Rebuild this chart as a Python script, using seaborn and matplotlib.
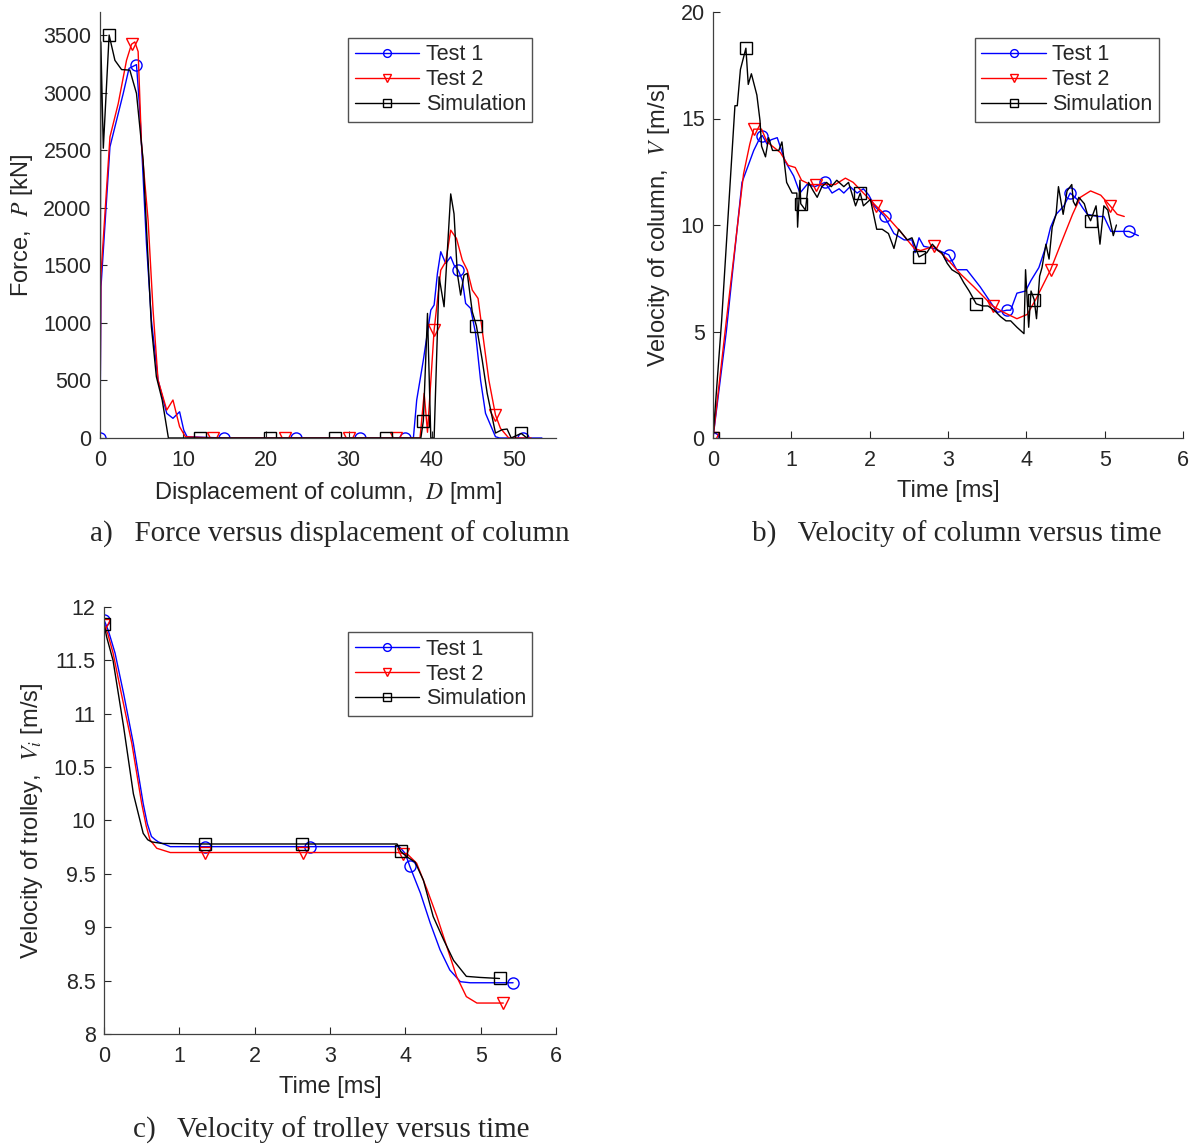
import numpy as np
import matplotlib
matplotlib.use("Agg")
import matplotlib.pyplot as plt
import seaborn as sns
from matplotlib.ticker import FormatStrFormatter

# ---- a) force vs displacement ----
a_t1_d = [0, 0.12, 1.2, 2.0, 2.8, 3.5, 4.4, 4.8, 5.6, 6.2, 7.0, 8.05, 8.8, 9.6, 10.1, 10.5, 15.0, 23.6, 31.4,
          36.8, 37.8, 38.2, 39.0, 39.9, 40.3, 40.7, 41.1, 41.7, 42.3, 42.7, 43.2, 43.7, 44.1, 44.7, 45.3, 45.9,
          46.5, 47.7, 48.2, 51.0, 53.3]
a_t1_p = [0, 1313, 2529, 2760, 2992, 3210, 3243, 2847, 1692, 1024, 503, 214, 171, 228, 69, 11, 0, 0, 0,
          0, 0, 330, 677, 1111, 1155, 1430, 1618, 1516, 1574, 1502, 1458, 1372, 1169, 1126, 909, 503,
          214, 11, 0, 0, 0]
a_t1_mk = [0, 4.4, 15.0, 23.6, 31.4, 36.8, 43.2, 51.0]

a_t2_d = [0, 0.1, 1.2, 2.2, 3.2, 3.8, 4.2, 4.6, 5.0, 5.8, 6.4, 7.0, 8.05, 8.8, 9.6, 10.3, 13.6, 22.3, 30.0,
          35.7, 38.6, 39.1, 39.5, 40.3, 41.1, 41.7, 42.3, 43.0, 43.7, 44.3, 44.9, 45.6, 46.1, 46.9, 47.7,
          48.3, 49.3, 52.0]
a_t2_p = [0, 1400, 2615, 2905, 3281, 3420, 3440, 3356, 2558, 1892, 1111, 503, 243, 330, 98, 11, 0, 0, 0,
          0, 0, 388, 50, 937, 1458, 1531, 1805, 1733, 1545, 1458, 1285, 1212, 937, 503, 200,
          84, 0, 0]
a_t2_mk = [3.8, 13.6, 22.3, 30.0, 35.7, 40.3, 47.7]

a_sim_d = [0, 0.1, 0.4, 1.1, 1.8, 2.6, 3.6, 4.4, 5.2, 6.2, 6.8, 7.5, 8.25, 12.1, 20.5, 28.4, 34.5, 38.7,
           39.0, 39.5, 39.9, 40.3, 40.9, 41.5, 42.3, 42.7, 43.1, 43.5, 43.9, 44.3, 44.9, 45.4, 46.1, 46.7,
           47.7, 48.5, 49.1, 49.6, 50.8, 51.5]
a_sim_p = [0, 3440, 2517, 3500, 3280, 3200, 3195, 2993, 2413, 966, 532, 330, 0, 0, 0, 0, 0, 0,
           148, 1082, 0, 0, 1400, 1140, 2120, 1947, 1428, 1241, 1415, 1430, 1096, 974, 677, 388,
           43, 72, 78, 0, 40, 0]
a_sim_mk = [1.1, 12.1, 20.5, 28.4, 34.5, 39.0, 45.4, 50.8]

# ---- b) column velocity vs time ----
b_t1_t = [0, 0.17, 0.37, 0.52, 0.60, 0.63, 0.69, 0.74, 0.82, 0.92, 1.03, 1.11, 1.20, 1.30, 1.43, 1.52, 1.61,
          1.67, 1.75, 1.84, 1.92, 1.99, 2.06, 2.19, 2.31, 2.44, 2.54, 2.58, 2.63, 2.69, 2.82, 3.01, 3.11,
          3.24, 3.41, 3.52, 3.63, 3.75, 3.80, 3.88, 3.99, 4.06, 4.16, 4.25, 4.31, 4.38, 4.48, 4.56, 4.65,
          4.72, 4.78, 4.91, 4.99, 5.08, 5.19, 5.31, 5.43]
b_t1_v = [0, 5.0, 12.0, 13.5, 14.1, 14.2, 13.8, 14.0, 14.1, 13.0, 12.3, 11.5, 11.9, 11.8, 12.0, 11.5, 11.7,
          11.5, 11.8, 11.5, 11.7, 11.4, 10.9, 10.4, 9.6, 9.3, 9.3, 8.7, 9.4, 9.0, 8.9, 8.6, 7.9,
          7.9, 7.1, 6.5, 5.9, 6.0, 6.0, 6.8, 6.9, 7.4, 8.0, 9.0, 9.9, 10.5, 10.9, 11.5, 11.2,
          10.8, 10.5, 10.4, 10.4, 9.7, 9.7, 9.7, 9.5]
b_t1_mk = [0, 0.63, 1.43, 2.19, 3.01, 3.75, 4.56, 5.31]

b_t2_t = [0, 0.17, 0.39, 0.47, 0.52, 0.62, 0.69, 0.86, 0.96, 1.05, 1.13, 1.24, 1.31, 1.43, 1.56, 1.69, 1.79,
          1.92, 2.08, 2.22, 2.39, 2.57, 2.65, 2.82, 2.99, 3.16, 3.33, 3.57, 3.71, 3.88, 4.01, 4.12, 4.31,
          4.46, 4.59, 4.69, 4.82, 4.95, 5.07, 5.16, 5.25]
b_t2_v = [0, 5.5, 12.4, 13.8, 14.5, 14.5, 13.9, 13.4, 12.8, 12.7, 12.1, 11.9, 11.9, 11.9, 11.9, 12.2, 12.0,
          11.5, 10.9, 10.4, 9.7, 8.9, 8.8, 9.0, 8.4, 7.7, 7.1, 6.2, 5.9, 5.6, 5.8, 6.5, 7.9,
          9.3, 10.5, 11.3, 11.6, 11.4, 10.9, 10.5, 10.4]
b_t2_mk = [0, 0.52, 1.31, 2.08, 2.82, 3.57, 4.31, 5.07]

b_sim_t = [0, 0.11, 0.28, 0.31, 0.35, 0.42, 0.45, 0.49, 0.56, 0.60, 0.62, 0.67, 0.71, 0.76, 0.84, 0.88,
           0.94, 1.01, 1.07, 1.08, 1.11, 1.12, 1.18, 1.22, 1.28, 1.33, 1.39, 1.45, 1.51, 1.58, 1.67, 1.73,
           1.82, 1.88, 1.92, 2.01, 2.09, 2.16, 2.24, 2.31, 2.37, 2.48, 2.54, 2.63, 2.73, 2.80, 2.87, 2.92,
           2.99, 3.05, 3.14, 3.20, 3.27, 3.36, 3.44, 3.51, 3.59, 3.67, 3.74, 3.80, 3.88, 3.97, 3.99, 4.03,
           4.06, 4.10, 4.13, 4.17, 4.20, 4.25, 4.29, 4.33, 4.38, 4.41, 4.47, 4.52, 4.58, 4.60, 4.63, 4.67,
           4.74, 4.78, 4.82, 4.89, 4.94, 4.99, 5.04, 5.11, 5.15]
b_sim_v = [0, 5.5, 15.6, 15.6, 17.3, 18.3, 16.6, 17.1, 16.1, 14.9, 13.7, 13.2, 14.1, 13.5, 13.5, 13.9,
           12.0, 11.5, 11.5, 9.9, 12.1, 11.0, 10.7, 12.0, 11.6, 11.3, 11.8, 12.0, 11.8, 12.1, 11.8, 12.0,
           10.9, 11.5, 10.9, 11.2, 9.8, 9.8, 9.6, 8.9, 9.8, 9.3, 9.4, 8.5, 8.7, 9.1, 8.8, 8.7,
           8.2, 7.9, 7.7, 7.3, 6.9, 6.3, 6.2, 6.2, 6.0, 5.7, 5.5, 5.5, 5.2, 4.9, 7.9, 5.2,
           6.9, 6.5, 5.6, 7.6, 8.0, 9.1, 8.4, 9.9, 10.5, 11.8, 10.5, 11.6, 11.9, 11.1, 10.9, 11.3,
           11.0, 10.5, 10.2, 10.9, 9.1, 10.9, 10.7, 9.5, 10.0]
b_sim_mk = [0, 0.42, 1.12, 1.88, 2.63, 3.36, 4.10, 4.82]

# ---- c) trolley velocity vs time ----
c_t1_t = [0, 0.057, 0.146, 0.26, 0.39, 0.52, 0.575, 0.63, 0.68, 0.72, 0.88, 1.34, 2.73, 3.92, 4.0, 4.06,
          4.20, 4.33, 4.46, 4.59, 4.73, 4.86, 5.43]
c_t1_v = [11.88, 11.78, 11.57, 11.19, 10.72, 10.16, 9.97, 9.85, 9.82, 9.80, 9.755, 9.755, 9.755, 9.755,
          9.69, 9.57, 9.32, 9.04, 8.79, 8.60, 8.49, 8.48, 8.48]
c_t1_mk = [0, 1.34, 2.73, 4.06, 5.43]

c_t2_t = [0, 0.05, 0.12, 0.23, 0.37, 0.50, 0.56, 0.61, 0.70, 0.88, 1.34, 2.64, 3.90, 3.97, 4.02, 4.15,
          4.29, 4.42, 4.55, 4.68, 4.81, 4.95, 5.30]
c_t2_v = [11.83, 11.75, 11.57, 11.19, 10.72, 10.16, 9.95, 9.82, 9.74, 9.70, 9.70, 9.70, 9.70, 9.69,
          9.69, 9.60, 9.35, 9.10, 8.82, 8.54, 8.35, 8.29, 8.29]
c_t2_mk = [0, 1.34, 2.64, 3.97, 5.30]

c_sim_t = [0, 0.035, 0.12, 0.26, 0.39, 0.52, 0.58, 0.63, 0.77, 1.34, 2.63, 3.89, 3.94, 4.02, 4.13, 4.24,
           4.37, 4.51, 4.64, 4.81, 4.99, 5.25]
c_sim_v = [11.84, 11.72, 11.50, 10.88, 10.25, 9.88, 9.82, 9.80, 9.785, 9.78, 9.78, 9.78, 9.71, 9.66,
           9.61, 9.44, 9.10, 8.88, 8.69, 8.54, 8.53, 8.52]
c_sim_mk = [0, 1.34, 2.63, 3.94, 5.25]

labels = ["Test 1", "Test 2", "Simulation"]
colors = ["#0000ff", "#ff0000", "#000000"]
markers = ["o", "v", "s"]

sns.set_style("white")
plt.rcParams["font.family"] = ["Liberation Sans", "DejaVu Sans"]
plt.rcParams["mathtext.fontset"] = "stix"
plt.rcParams["xtick.direction"] = "in"
plt.rcParams["ytick.direction"] = "in"

fig = plt.figure(figsize=(11.94, 11.45), dpi=100)
W, H = 1194, 1145


def box(l, r, t, b):
    return [l / W, 1 - b / H, (r - l) / W, (b - t) / H]


def draw(ax, series):
    for (x, y, mk), lab, col, m in zip(series, labels, colors, markers):
        idx = list(np.flatnonzero(np.isin(x, mk)))
        sns.lineplot(x=x, y=y, ax=ax, sort=False, estimator=None, color=col, linewidth=1.0,
                     label=lab, marker=m, markevery=idx, markersize=8, markerfacecolor="none",
                     markeredgecolor=col, markeredgewidth=1.0)


def style(ax, anchor):
    for s in ["top", "right"]:
        ax.spines[s].set_visible(False)
    for s in ["left", "bottom"]:
        ax.spines[s].set_color("#404040")
        ax.spines[s].set_linewidth(0.9)
    ax.tick_params(axis="both", labelsize=15.5, colors="#262626", length=5, width=0.8,
                   left=True, bottom=True)
    ax.tick_params(axis="x", pad=9)
    ax.tick_params(axis="y", pad=6)
    ax.xaxis.labelpad = 6
    ax.yaxis.labelpad = 6
    leg = ax.legend(loc="upper left", bbox_to_anchor=anchor, borderaxespad=0, fontsize=15.5,
                    frameon=True, fancybox=False, edgecolor="#262626", handlelength=3.0,
                    handletextpad=0.3, labelspacing=0.18, borderpad=0.3, markerscale=0.7)
    leg.get_frame().set_linewidth(1.0)


ax1 = fig.add_axes(box(100, 556, 12, 438))
draw(ax1, [(a_t1_d, a_t1_p, a_t1_mk), (a_t2_d, a_t2_p, a_t2_mk), (a_sim_d, a_sim_p, a_sim_mk)])
ax1.set_xlim(0, 55)
ax1.set_ylim(0, 3700)
ax1.set_xticks([0, 10, 20, 30, 40, 50])
ax1.set_yticks(np.arange(0, 3501, 500))
ax1.set_xlabel("Displacement of column,  $D$ [mm]", fontsize=17)
ax1.set_ylabel("Force,  $P$ [kN]", fontsize=17)
style(ax1, (0.544, 0.939))

ax2 = fig.add_axes(box(713, 1183, 12, 438))
draw(ax2, [(b_t1_t, b_t1_v, b_t1_mk), (b_t2_t, b_t2_v, b_t2_mk), (b_sim_t, b_sim_v, b_sim_mk)])
ax2.set_xlim(0, 6)
ax2.set_ylim(0, 20)
ax2.set_xticks(range(7))
ax2.set_yticks([0, 5, 10, 15, 20])
ax2.set_xlabel("Time [ms]", fontsize=17)
ax2.set_ylabel("Velocity of column,  $V$ [m/s]", fontsize=17)
style(ax2, (0.557, 0.939))

ax3 = fig.add_axes(box(104, 556, 607, 1034))
draw(ax3, [(c_t1_t, c_t1_v, c_t1_mk), (c_t2_t, c_t2_v, c_t2_mk), (c_sim_t, c_sim_v, c_sim_mk)])
ax3.set_xlim(0, 6)
ax3.set_ylim(8, 12)
ax3.set_xticks(range(7))
ax3.set_yticks(np.arange(8, 12.01, 0.5))
ax3.yaxis.set_major_formatter(FormatStrFormatter("%g"))
ax3.set_xlabel("Time [ms]", fontsize=17)
ax3.set_ylabel("Velocity of trolley,  $V_i$ [m/s]", fontsize=17)
style(ax3, (0.540, 0.941))

cap = dict(fontsize=21, family=["Liberation Serif", "DejaVu Serif"], ha="center", va="center")
fig.text(330 / W, 1 - 534 / H, "a)   Force versus displacement of column", **cap)
fig.text(957 / W, 1 - 534 / H, "b)   Velocity of column versus time", **cap)
fig.text(331 / W, 1 - 1130 / H, "c)   Velocity of trolley versus time", **cap)

fig.savefig("out.png", dpi=100)
